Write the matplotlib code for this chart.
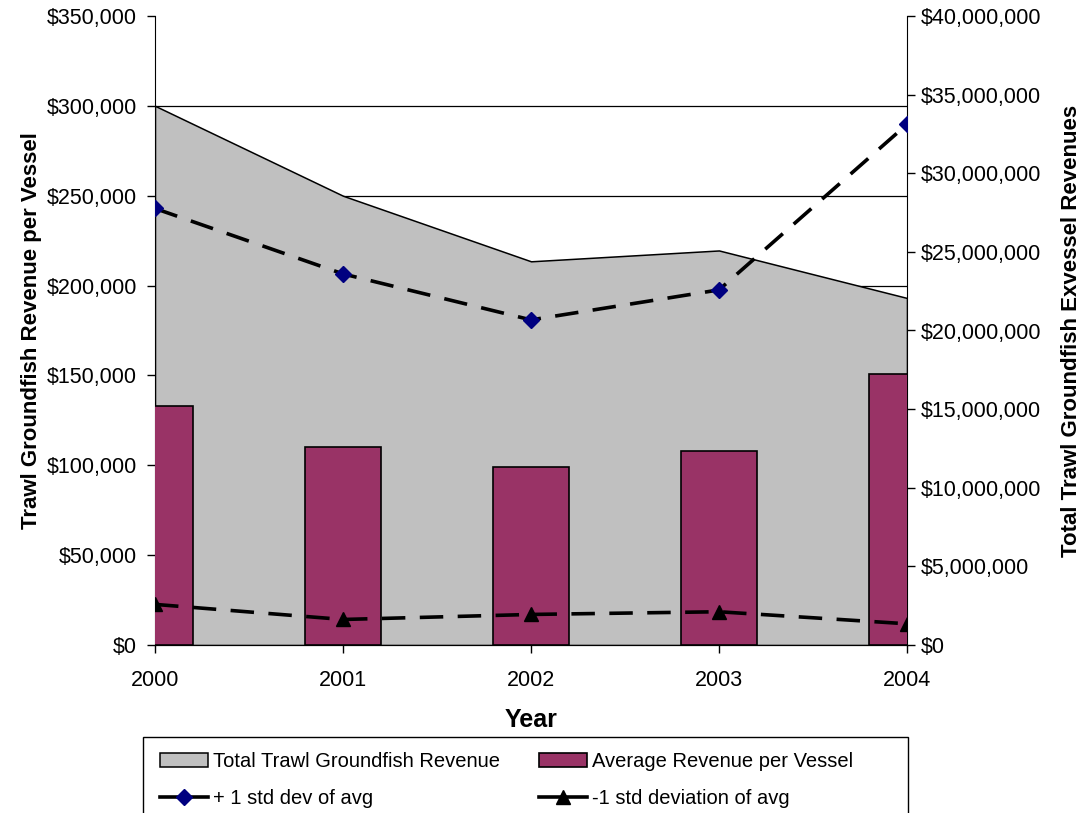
import numpy as np
import matplotlib.pyplot as plt
from matplotlib.patches import Rectangle
from matplotlib.lines import Line2D
from matplotlib.legend_handler import HandlerLine2D
from matplotlib.ticker import FuncFormatter

# values
years = [2000, 2001, 2002, 2003, 2004]
total_revenue = [34.29e6, 28.57e6, 24.40e6, 25.09e6, 22.07e6]
avg_revenue = [133100, 110300, 99100, 108200, 150900]
plus_std = [242900, 206500, 180900, 197600, 289700]
minus_std = [22600, 14200, 17000, 18500, 11800]

plt.rcParams['font.family'] = ['Liberation Sans', 'DejaVu Sans']

fig = plt.figure(figsize=(10.86, 8.13), dpi=100)
rect = [155 / 1086, 1 - 645 / 813, (907 - 155) / 1086, (645 - 16) / 813]

# back axes: left scale + grid
ax = fig.add_axes(rect)
ax.set_xlim(2000, 2004)
ax.set_ylim(0, 350000)
ax.set_yticks(np.arange(0, 350001, 50000))
ax.yaxis.set_major_formatter(FuncFormatter(lambda v, p: '${:,.0f}'.format(v)))
ax.set_xticks(years)
ax.grid(axis='y', color='black', lw=0.9)
ax.get_ygridlines()[-1].set_visible(False)
ax.set_axisbelow(True)
ax.tick_params(axis='y', direction='out', length=6, width=1, pad=7, labelsize=15.5)
ax.tick_params(axis='x', direction='out', length=6, width=1, pad=12, labelsize=15.5)
ax.spines['top'].set_visible(False)
ax.spines['right'].set_visible(False)
ax.set_ylabel('Trawl Groundfish Revenue per Vessel', fontsize=16, fontweight='bold', labelpad=3)
ax.set_xlabel('Year', fontsize=18, fontweight='bold', labelpad=12)

# middle axes: right scale, area
axr = ax.twinx()
axr.set_zorder(1)
axr.patch.set_visible(False)
axr.set_ylim(0, 40e6)
axr.set_yticks(np.arange(0, 40e6 + 1, 5e6))
axr.yaxis.set_major_formatter(FuncFormatter(lambda v, p: '${:,.0f}'.format(v)))
axr.tick_params(axis='y', direction='out', length=6, width=1, pad=4, labelsize=15.5)
axr.spines['top'].set_visible(False)
axr.spines['left'].set_visible(False)
area = axr.fill_between(years, total_revenue, 0, facecolor='#C0C0C0', edgecolor='black',
                        lw=1.1, label='Total Trawl Groundfish Revenue')
axr.set_ylabel('Total Trawl Groundfish Exvessel Revenues', fontsize=16, fontweight='bold', labelpad=14)

# front axes: bars and std lines on the left scale
axf = fig.add_axes(rect, sharex=ax, sharey=ax)
axf.set_zorder(2)
axf.patch.set_visible(False)
axf.axis('off')
bars = axf.bar(years, avg_revenue, width=0.4, color='#993366', edgecolor='black', lw=1.2,
               label='Average Revenue per Vessel')
l1, = axf.plot(years, plus_std, color='black', lw=2.6, dashes=(6.5, 4),
               marker='D', ms=8, mfc='#000080', mec='#000080', label='+ 1 std dev of avg')
l2, = axf.plot(years, minus_std, color='black', lw=2.6, dashes=(6.5, 4),
               marker='^', ms=10, mfc='black', mec='black', label='-1 std deviation of avg')
axf.set_xlim(2000, 2004)
axf.set_ylim(0, 350000)

# legend box (runs off the bottom edge like the original)
fig.patches.append(Rectangle((143 / 1086, -0.05), (908 - 143) / 1086, 0.05 + 1 - 737 / 813,
                             transform=fig.transFigure, facecolor='white',
                             edgecolor='black', lw=1.0, zorder=0))


def solid_handle(handle, orig):
    handle.update_from(orig)
    handle.set_linestyle('-')


handles = [area, l1, bars, l2]
leg = fig.legend(handles, [h.get_label() for h in handles],
                 ncol=2, loc='upper left',
                 bbox_to_anchor=(156 / 1086, 1 - 748 / 813),
                 fontsize=14.5, frameon=False,
                 handler_map={Line2D: HandlerLine2D(update_func=solid_handle)},
                 borderpad=0.2, handlelength=2.4, handletextpad=0.25, labelspacing=0.9,
                 columnspacing=1.9, borderaxespad=0)

fig.savefig('out.png', dpi=100)
